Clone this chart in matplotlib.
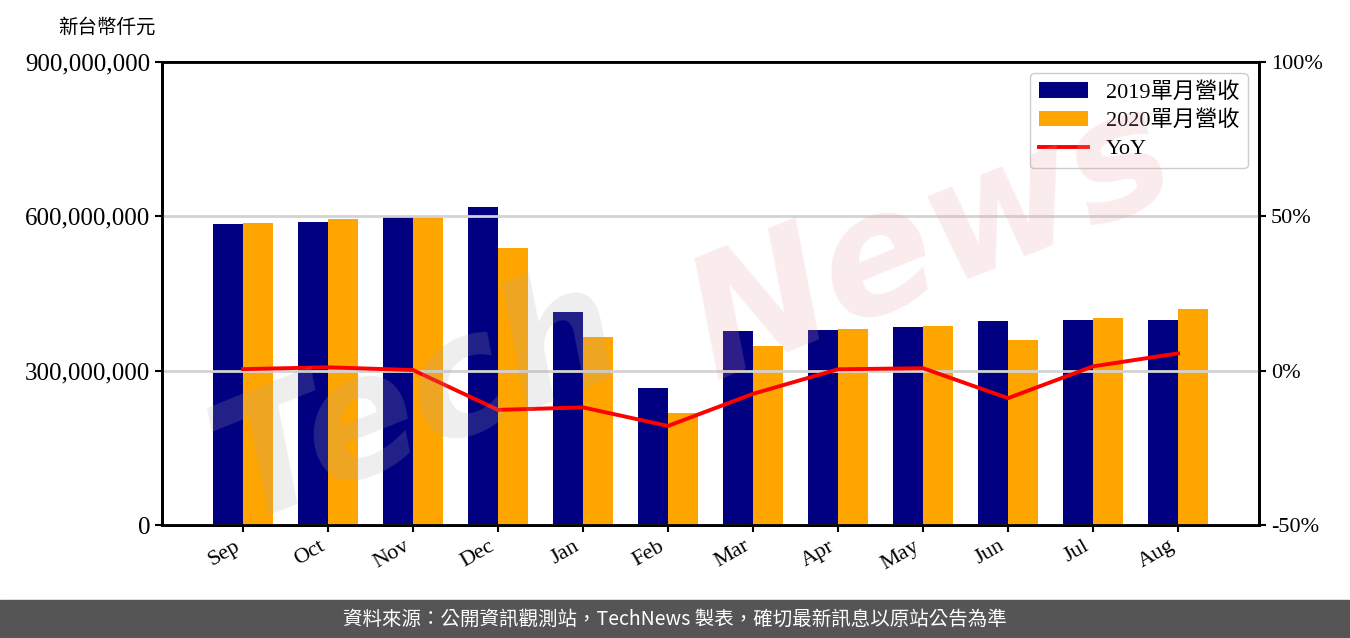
import matplotlib.pyplot as plt
from matplotlib.patches import Rectangle
from matplotlib.ticker import FuncFormatter

months = ["Sep", "Oct", "Nov", "Dec", "Jan", "Feb", "Mar", "Apr", "May", "Jun", "Jul", "Aug"]
rev2019 = [585.1, 589.0, 599.4, 618.1, 414.0, 266.3, 377.1, 379.0, 384.9, 396.5, 398.5, 398.5]
rev2020 = [587.0, 594.8, 601.3, 538.4, 365.4, 217.7, 348.0, 381.0, 386.8, 359.6, 402.4, 419.9]
yoy = [0.5, 1.1, 0.2, -12.7, -11.9, -17.9, -7.5, 0.45, 0.8, -8.9, 1.4, 5.6]

# values above are in millions of NT$ thousand
rev2019 = [v * 1e6 for v in rev2019]
rev2020 = [v * 1e6 for v in rev2020]

plt.rcParams['font.family'] = ['Liberation Serif', 'Noto Sans CJK TC']

fig = plt.figure(figsize=(13.5, 6.38), dpi=100)
ax = fig.add_axes([0.12, 0.1771, 0.8126, 0.7257])
ax2 = ax.twinx()

x = list(range(len(months)))
w = 0.353
b1 = ax.bar([i - w / 2 for i in x], rev2019, w, color='#000080', label='2019單月營收', zorder=3)
b2 = ax.bar([i + w / 2 for i in x], rev2020, w, color='#FFA500', label='2020單月營收', zorder=3)
ln, = ax2.plot(x, yoy, color='red', lw=2.8, label='YoY', zorder=4)

ax.set_xlim(-0.953, 11.953)
ax.set_ylim(0, 900e6)
ax.set_yticks([0, 300e6, 600e6, 900e6])
ax.yaxis.set_major_formatter(FuncFormatter(lambda v, p: f"{int(v):,}"))
ax.set_xticks(x)
ax.set_xticklabels(months, rotation=30, ha='right')
ax.tick_params(axis='both', labelsize=16, width=1.5, length=5)
ax.tick_params(axis='y', labelsize=18)

ax2.set_ylim(-50, 100)
ax2.set_yticks([-50, 0, 50, 100])
ax2.yaxis.set_major_formatter(FuncFormatter(lambda v, p: f"{int(v)}%"))
ax2.tick_params(axis='y', labelsize=16, width=1.5, length=5)
ax2.grid(axis='y', color='#d3d3d3', lw=2, zorder=0)
ax.set_zorder(ax2.get_zorder() - 1)
ax2.patch.set_visible(False)
ax.patch.set_visible(False)

for a in (ax, ax2):
    for s in a.spines.values():
        s.set_linewidth(2)

# watermark
fig.text(0.31, 0.37, "Tech", fontsize=120, fontstyle='italic', fontweight='bold',
         color='#aaaaaa', alpha=0.2, rotation=22, ha='center', va='center',
         family='DejaVu Sans', zorder=0)
fig.text(0.69, 0.62, "News", fontsize=120, fontstyle='italic', fontweight='bold',
         color='#e8a0a8', alpha=0.2, rotation=22, ha='center', va='center',
         family='DejaVu Sans', zorder=0)

leg = ax2.legend(handles=[b1, b2, ln], loc='upper right', fontsize=16,
                 fancybox=True, framealpha=1, edgecolor='#cccccc',
                 handlelength=2.2, borderpad=0.4, labelspacing=0.35)

fig.text(0.043, 0.958, "新台幣仟元", fontsize=14, family=['Noto Sans CJK TC'], va='center')

fig.patches.append(Rectangle((0, 0), 1, 38 / 638, transform=fig.transFigure,
                             color='#555555', zorder=-1))
fig.text(0.5, 19 / 638, "資料來源：公開資訊觀測站，TechNews 製表，確切最新訊息以原站公告為準",
         color='white', fontsize=14, ha='center', va='center',
         family=['Noto Sans CJK TC', 'DejaVu Sans'])

fig.savefig("out.png", dpi=100)
